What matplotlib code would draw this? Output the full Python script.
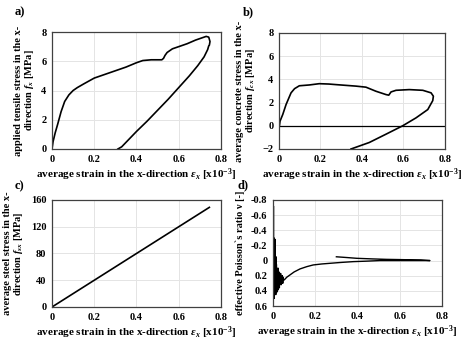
import numpy as np
import matplotlib
matplotlib.use("Agg")
import matplotlib.pyplot as plt

plt.rcParams["font.family"] = ["Liberation Serif", "DejaVu Serif"]
plt.rcParams["font.weight"] = "bold"
plt.rcParams["mathtext.fontset"] = "custom"
plt.rcParams["mathtext.rm"] = "Liberation Serif:bold"
plt.rcParams["mathtext.it"] = "Liberation Serif:bold:italic"
plt.rcParams["mathtext.bf"] = "Liberation Serif:bold"

# a) applied tensile stress vs strain
strain_a = [0, 0.005, 0.015, 0.027, 0.043, 0.06, 0.08, 0.1, 0.12, 0.15, 0.2, 0.25, 0.3,
            0.35, 0.4, 0.43, 0.47, 0.52, 0.528, 0.535, 0.545, 0.57, 0.6, 0.64, 0.68, 0.71,
            0.73, 0.742, 0.748, 0.745, 0.742, 0.737, 0.72, 0.69, 0.65, 0.6, 0.55, 0.5,
            0.45, 0.4, 0.33, 0.312]
stress_a = [0, 0.5, 1.1, 1.7, 2.55, 3.25, 3.7, 4.0, 4.2, 4.45, 4.85, 5.1, 5.35,
            5.6, 5.9, 6.05, 6.1, 6.1, 6.2, 6.4, 6.6, 6.85, 7.0, 7.2, 7.45, 7.6,
            7.7, 7.65, 7.35, 7.1, 7.05, 6.8, 6.3, 5.7, 5.0, 4.2, 3.4, 2.65,
            1.9, 1.2, 0.15, 0]

# b) average concrete stress
strain_b = [0.002, 0.005, 0.018, 0.034, 0.058, 0.075, 0.098, 0.146, 0.194, 0.24, 0.275,
            0.371, 0.419, 0.467, 0.516, 0.529, 0.54, 0.564, 0.628, 0.693, 0.733, 0.744,
            0.741, 0.717, 0.66, 0.596, 0.516, 0.435, 0.347]
stress_b = [0, 0.4, 0.97, 1.83, 2.84, 3.2, 3.45, 3.52, 3.63, 3.6, 3.55,
            3.42, 3.33, 2.98, 2.69, 2.64, 2.92, 3.06, 3.12, 3.06, 2.84, 2.55,
            2.17, 1.4, 0.68, 0, -0.72, -1.44, -2.0]

# c) average steel stress
strain_c = [0, 0.2, 0.4, 0.6, 0.745]
stress_c = [0, 40, 80, 120, 149]

# d) effective Poisson's ratio
strain_d = [0.001, 0.002, 0.003, 0.004, 0.005, 0.006, 0.007, 0.008, 0.009, 0.010,
            0.011, 0.012, 0.013, 0.014, 0.015, 0.016, 0.017, 0.018, 0.019, 0.020,
            0.021, 0.022, 0.023, 0.024, 0.025, 0.026, 0.027, 0.028, 0.030, 0.032,
            0.034, 0.036, 0.038, 0.040, 0.042, 0.044, 0.046, 0.048, 0.050, 0.055,
            0.065, 0.08, 0.1, 0.128, 0.16, 0.19, 0.23, 0.27, 0.32, 0.38, 0.44,
            0.506, 0.58, 0.65, 0.7, 0.743, 0.7, 0.65, 0.6, 0.538, 0.47, 0.396,
            0.35, 0.3]
nu_d = [0.55, -0.72, 0.45, -0.3, 0.5, -0.25, 0.45, -0.1, 0.4, -0.28,
        0.35, 0.0, 0.45, -0.05, 0.4, 0.05, 0.42, 0.1, 0.38, 0.12,
        0.4, 0.15, 0.35, 0.1, 0.38, 0.18, 0.33, 0.15, 0.36, 0.2,
        0.3, 0.17, 0.32, 0.22, 0.3, 0.2, 0.3, 0.22, 0.26, 0.25,
        0.22, 0.19, 0.15, 0.11, 0.08, 0.058, 0.045, 0.036, 0.025, 0.014, 0.008,
        0.0, 0.0, 0.0, 0.0, 0.0, -0.008, -0.01, -0.013, -0.016, -0.022, -0.03,
        -0.04, -0.05]

xlabel = r"average strain in the x-direction $\varepsilon_x$ [x10$^{-3}$]"

fig = plt.figure(figsize=(4.74, 3.51), dpi=100)
axa = fig.add_axes([0.1097, 0.5755, 0.3565, 0.3333])
axb = fig.add_axes([0.5886, 0.5755, 0.3502, 0.3305])
axc = fig.add_axes([0.1097, 0.1254, 0.3565, 0.3048])
axd = fig.add_axes([0.5760, 0.1282, 0.3565, 0.3020])

def style(ax, yticks, ylabel):
    ax.set_xlim(0, 0.8)
    ax.set_xticks([0, 0.2, 0.4, 0.6, 0.8])
    ax.set_xticklabels(["0", "0.2", "0.4", "0.6", "0.8"])
    ax.set_yticks(yticks)
    ax.set_ylim(yticks[0], yticks[-1])
    ax.grid(True, color="#e4e4e4", lw=0.7)
    ax.set_axisbelow(True)
    ax.tick_params(length=0, labelsize=7.5, pad=4)
    for s in ax.spines.values():
        s.set_color("#404040")
        s.set_linewidth(0.9)
    ax.set_xlabel(xlabel, fontsize=8, fontweight="bold", labelpad=2)
    ax.set_ylabel(ylabel, fontsize=7.5, fontweight="bold", labelpad=4, linespacing=1.0)

axa.plot(strain_a, stress_a, color="black", lw=1.2)
style(axa, [0, 2, 4, 6, 8], "applied tensile stress in the x-\ndirection $f_x$ [MPa]")

axb.axhline(0, color="black", lw=0.9)
axb.plot(strain_b, stress_b, color="black", lw=1.2)
style(axb, [-2, 0, 2, 4, 6, 8], "average concrete stress in the x-\ndirection $f_{cx}$ [MPa]")

axc.plot(strain_c, stress_c, color="black", lw=1.2)
style(axc, [0, 40, 80, 120, 160], "average steel stress in the x-\ndirection $f_{sx}$ [MPa]")

axd.plot(strain_d, nu_d, color="black", lw=1.0)
style(axd, [-0.8, -0.6, -0.4, -0.2, 0, 0.2, 0.4, 0.6], "effective Poisson`s ratio ν [-]")
axd.set_ylim(0.6, -0.8)
axd.set_yticklabels(["-0.8", "-0.6", "-0.4", "-0.2", "0", "0.2", "0.4", "0.6"])

fig.text(0.030, 0.965, "a)", fontsize=9, fontweight="bold", va="center")
fig.text(0.513, 0.965, "b)", fontsize=9, fontweight="bold", va="center")
fig.text(0.030, 0.470, "c)", fontsize=9, fontweight="bold", va="center")
fig.text(0.500, 0.473, "d)", fontsize=9, fontweight="bold", va="center")

fig.savefig("out.png", dpi=100)
